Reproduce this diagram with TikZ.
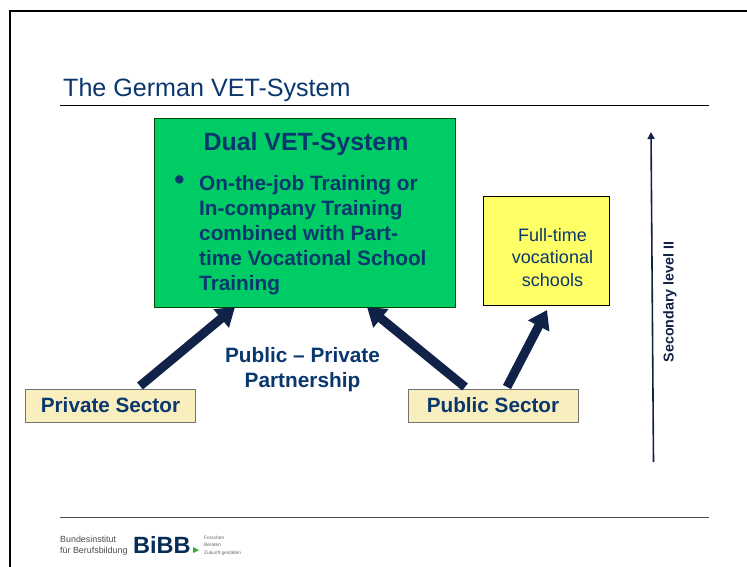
\documentclass[tikz,border=0pt]{standalone}
\usepackage{fontspec}
\setmainfont{Liberation Sans}
\usetikzlibrary{arrows.meta}
\definecolor{txtblue}{RGB}{10,55,110}
\definecolor{arrowblue}{RGB}{17,34,72}
\definecolor{boxgreen}{RGB}{0,204,102}
\definecolor{boxyellow}{RGB}{255,255,102}
\definecolor{boxcream}{RGB}{248,238,190}
\tikzset{
  x=1pt,y=-1pt,
  fat/.style={draw=arrowblue,line width=9pt,-{Triangle[length=18pt,width=23pt]}},
  sector/.style={draw=black!55,fill=boxcream,line width=1pt,minimum width=170pt,minimum height=33pt,inner sep=0pt,text=txtblue,font=\bfseries\fontsize{20.7}{22}\selectfont},
  lbl/.style={text=txtblue,align=center,inner sep=0pt}
}
\begin{document}
\begin{tikzpicture}
\useasboundingbox (0,0) rectangle (747,567);
\fill[white] (0,0) rectangle (747,567);
\draw[black,line width=2pt] (10,567) -- (10,11) -- (747,11);
\node[lbl,anchor=base west,font=\fontsize{25.1}{28}\selectfont] (title) at (63,97) {The German VET-System};
\coordinate (r1a) at (60,105.5); \coordinate (r1b) at (709,105.5);
\draw[black,line width=0.9pt] (r1a) -- (r1b);
\coordinate (r2a) at (60,517); \coordinate (r2b) at (709,517);
\draw[black!70,line width=0.9pt] (r2a) -- (r2b);
\node[draw=black!70!green,fill=boxgreen,line width=1pt,minimum width=301pt,minimum height=188pt,inner sep=0pt] (dual) at (304.5,213) {};
\node[lbl,font=\bfseries\fontsize{24.9}{28}\selectfont] (dualt) at (306,144) {Dual VET-System};
\node[lbl,font=\bfseries\fontsize{29}{25}\selectfont] (bul) at (179.5,183) {•};
\node[lbl,anchor=north west,align=left,font=\bfseries\fontsize{20.8}{25}\selectfont] (dualb) at (199,175.5) {On-the-job Training or\\In-company Training\\combined with Part-\\time Vocational School\\Training};
\node[draw=black,fill=boxyellow,line width=0.9pt,minimum width=126pt,minimum height=109pt,inner sep=0pt] (ft) at (546.5,251) {};
\node[lbl,font=\fontsize{18}{22.5}\selectfont] (ftt) at (552.5,257.5) {Full-time\\vocational\\schools};
\node[sector] (priv) at (110.5,405.5) {Private Sector};
\node[sector] (pub) at (493,405.5) {Public Sector};
\node[lbl,font=\bfseries\fontsize{20.8}{25}\selectfont] (ppp) at (302.5,369.5) {Public -- Private\\Partnership};
\coordinate (a1) at (140,386); \coordinate (a1e) at (235,307);
\coordinate (a2) at (465,387); \coordinate (a2e) at (367,307);
\coordinate (a3) at (507,387); \coordinate (a3e) at (547,310);
\draw[fat] (a1) -- (a1e);
\draw[fat] (a2) -- (a2e);
\draw[fat] (a3) -- (a3e);
\coordinate (v1) at (653.5,462); \coordinate (v2) at (651,132);
\draw[arrowblue,line width=1.6pt,-{Triangle[length=7pt,width=7pt]}] (v1) -- (v2);
\node[lbl,rotate=90,font=\bfseries\fontsize{14.3}{16}\selectfont,text=arrowblue] (sec) at (670,302) {Secondary level II};
\node[lbl,anchor=west,align=left,text=black!70,font=\fontsize{8.9}{10.5}\selectfont] (b1) at (60,545.5) {Bundesinstitut\\für Berufsbildung};
\node[lbl,anchor=west,font=\bfseries\fontsize{23.5}{24}\selectfont,text=txtblue!80!black] (bibb) at (133,545) {BiBB};
\fill[green!60!black!80] (193,547) -- (193,553) -- (199,550) -- cycle;
\node[lbl,anchor=west,align=left,text=black!60,font=\fontsize{4.8}{7.5}\selectfont] (b2) at (204,545.5) {Forschen\\Beraten\\Zukunft gestalten};
\end{tikzpicture}
\end{document}
